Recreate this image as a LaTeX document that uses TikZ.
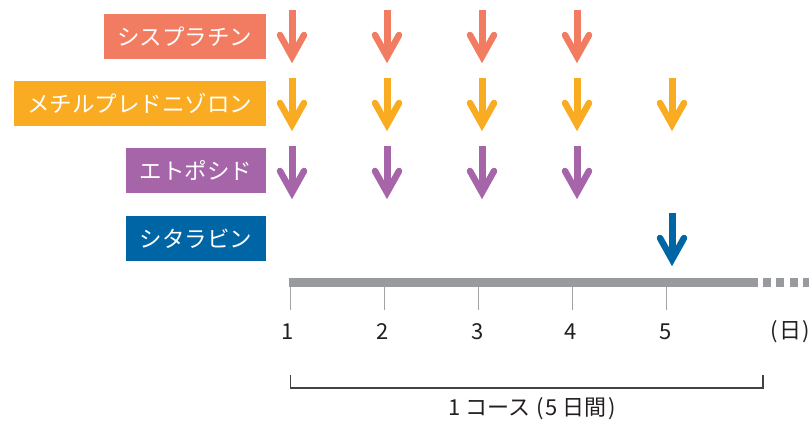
\documentclass[tikz,border=0pt]{standalone}
\usepackage{fontspec}
\setmainfont{Noto Sans CJK JP}
\definecolor{cSal}{HTML}{F27C61}
\definecolor{cOra}{HTML}{F9AB22}
\definecolor{cPur}{HTML}{A565A8}
\definecolor{cBlu}{HTML}{0065A5}
\definecolor{cBar}{HTML}{999A9E}
\definecolor{cTick}{HTML}{A3A3A6}
\definecolor{cTxt}{HTML}{231F20}
\tikzset{
  drugbox/.style={fill=#1, text=white, anchor=east, minimum height=45pt, inner xsep=13.5pt, inner ysep=0pt,
    font=\fontsize{22.5}{26}\selectfont},
  daylab/.style={text=cTxt, font=\fontsize{22}{26}\selectfont, inner sep=0pt},
}
\newcommand{\dosearrow}[3]{% x, top, color
  \draw[#3, line width=7pt] (#1,#2) -- (#1,#2+40);
  \draw[#3, line width=6.5pt, line cap=round, line join=miter] (#1-12,#2+25) -- (#1,#2+46.5) -- (#1+12,#2+25);
}
\begin{document}
\begin{tikzpicture}[x=1pt,y=-1pt]
\useasboundingbox (0,0) rectangle (809,421);
% drug boxes
\node[drugbox=cSal] (cis) at (266,36.5) {シスプラチン};
\node[drugbox=cOra] (mpd) at (266,103.5) {メチルプレドニゾロン};
\node[drugbox=cPur] (eto) at (266,170.5) {エトポシド};
\node[drugbox=cBlu] (cyt) at (266,238.5) {シタラビン};
% arrows
\foreach \i in {0,1,2,3} {
  \dosearrow{292+95*\i}{10}{cSal}
  \dosearrow{292+95*\i}{146}{cPur}
}
\foreach \i in {0,1,2,3,4} {
  \dosearrow{292+95*\i}{78}{cOra}
}
\dosearrow{672}{213}{cBlu}
% timeline
\coordinate (bs) at (289.3,282.5);
\coordinate (be) at (758,282.5);
\coordinate (ds) at (763,282.5);
\coordinate (de) at (812,282.5);
\draw[cBar, line width=8.4pt] (bs) -- (be);
\draw[cBar, line width=8.4pt, dash pattern=on 8pt off 5.3pt] (ds) -- (de);
\foreach \i/\lx in {1/288,2/383,3/478,4/571,5/666} {
  \draw[cTick, line width=1.6pt] (290.5+94*\i-94,286.7) -- (290.5+94*\i-94,310);
  \node[daylab] (d\i) at (\lx,331.5) {\i};
}
\node[daylab] (unit) at (790,331.5) {(\hspace{1.5pt}日\hspace{1.5pt})};
% bracket
\coordinate (bl) at (290.5,375);
\coordinate (br) at (763,375);
\draw[cTxt!85, line width=1.4pt] (bl) -- (290.5,388) -- (763,388) -- (br);
\node[daylab] (course) at (532,409) {1\hspace{5pt}コース\hspace{6pt}(\hspace{2pt}5\hspace{4pt}日間\hspace{2pt})};
\end{tikzpicture}
\end{document}
